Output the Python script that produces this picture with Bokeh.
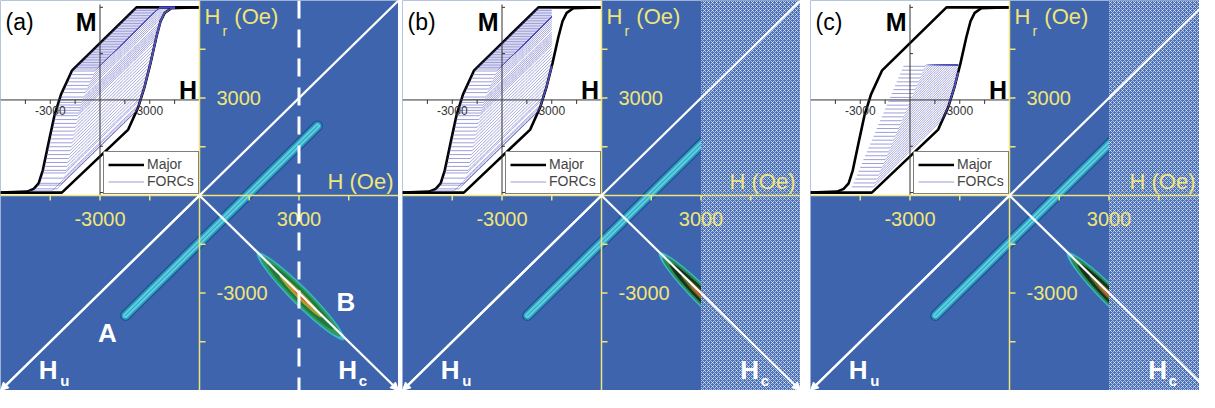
import numpy as np
from bokeh.plotting import figure
from bokeh.models import Range1d, Span, Slope, Arrow, NormalHead, Legend, LegendItem
from bokeh.layouts import row
from bokeh.embed import file_html
from bokeh.resources import INLINE
from bokeh.core.properties import value

# ---------------- values ----------------
PANEL_TAGS = ["(a)", "(b)", "(c)"]
AXIS_LIMIT = 6000                      # Oe, half width of the FORC diagram
MAIN_TICKS = [-4500, -3000, -1500, 1500, 3000, 4500]
MAIN_TICK_LABELS = [-3000, 3000]
FIELD_CUT_BC = 3000                    # largest applied field in (b) and (c)

INSET_TICKS_H = [-4500, -3000, -1500, 1500, 3000, 4500]
INSET_TICK_LABELS = [-3000, 3000]
INSET_TICKS_M = [-1.0, -0.5, 0.5, 1.0]

MAJOR_ASC_H = [-6000, -2300, 1700, 2300, 2700, 3050, 3400, 3650, 3900, 4300, 6000]
MAJOR_ASC_M = [-1.0, -1.0, -0.32, -0.08, 0.15, 0.40, 0.68, 0.85, 0.94, 0.99, 1.0]
MAJOR_DESC_H = [6000, 2200, -1680, -2350, -2750, -3050, -3450, -3700, -4000, -4400, -6000]
MAJOR_DESC_M = [1.0, 1.0, 0.32, 0.06, -0.17, -0.42, -0.76, -0.90, -0.96, -0.99, -1.0]

FORC_HR_AB = [-4300, -4000, -3800, -3700, -3600, -3500, -3450, -3400, -3350, -3300,
              -3250, -3200, -3150, -3100, -3050, -3000, -2950, -2900, -2850, -2800,
              -2750, -2700, -2650, -2600, -2550, -2500, -2450, -2400, -2300, -2200,
              -2100, -2000, -1900, -1800, -1700, -1600, -1500, -1400, -1300, -1200,
              -1100, -1000, -900, -800, -700, -600, -500, -400, -300, -200, -100, 0,
              100, 200, 300, 400, 500, 600, 700, 800, 900, 1000, 1100, 1200, 1300,
              1400, 1500, 1600, 1700, 1800, 1900, 2000, 2100]
FORC_SHIFT_AB = 1400
FORC_SLOPE = 1.75e-4
FORC_END_A = 4500

MINOR_DESC_H_C = [-6000, -3600, -360, 2900]
MINOR_DESC_M_C = [-1.0, -0.98, 0.38, 0.38]
FORC_HR_C = [-3500, -3400, -3300, -3200, -3100, -3000, -2900, -2800, -2700, -2600,
             -2500, -2400, -2300, -2200, -2100, -2000, -1900, -1800, -1700, -1600,
             -1500, -1400, -1300, -1200, -1100, -1000, -900, -800, -700, -600,
             -500, -400]
FORC_SHIFT_C = 1300
FORC_TOP_C = 0.38
FORC_END_C = 2900

RIDGE_A_H = [-2230, 3560]
RIDGE_A_HR = [-3690, 2140]
RIDGE_B_H = 3050
RIDGE_B_HR = -3100
RIDGE_B_LEN = [3750, 3400, 2800, 1800, 1100, 550]
RIDGE_B_WID = [580, 480, 360, 210, 130, 65]

# ---------------- styles ----------------
FONT = "Liberation Sans"
BLUE = "#3d64ad"
YELLOW = "#f0e47a"
FORC_COLOR = "#5050bc"
RIDGE_A_WIDTHS = [11, 8.5, 5, 1.2]
RIDGE_A_COLORS = ["#22508c", "#2b9cc0", "#5fd0e0", "#3aa8c8"]
RIDGE_B_COLORS = [
    ["#3fb5cf", "#2f9a5e", "#1f7a3c", "#a0a838", "#d98a2a", "#d04020"],
    ["#3fb5cf", "#2a8a50", "#17321d", "#5e6e28", "#c86a28", "#d03a20"],
    ["#3fb5cf", "#2a8a50", "#17321d", "#5e6e28", "#c86a28", "#d03a20"],
]

FRAME_W = [398, 398, 389]
GAP_L = [0, 4, 10]
FRAME_H = 390
PX = 2 * AXIS_LIMIT / FRAME_W[0]
XMAX = [AXIS_LIMIT, AXIS_LIMIT, -AXIS_LIMIT + FRAME_W[2] * PX]

# inset mapping: inset H = 2*x + 6000 ; inset M = (y - 2940)/2850
INSET_H_PER_X = 2.0
INSET_H_SHIFT = 6000.0
INSET_M0_Y = 2940.0
INSET_M_UNIT = 2850.0

desc_h_sorted = np.array(MAJOR_DESC_H[::-1], dtype=float)
desc_m_sorted = np.array(MAJOR_DESC_M[::-1], dtype=float)


def m_asc(h):
    return np.interp(h, MAJOR_ASC_H, MAJOR_ASC_M)


def forc_curve(hr, m0, shift, h_stop, top):
    hb = hr + shift
    if hb < h_stop:
        h = np.concatenate(([hr], np.arange(hb, h_stop, 25.0), [h_stop]))
    else:
        h = np.array([hr, h_stop], dtype=float)
    rise = m0 + FORC_SLOPE * np.clip(h - hb, 0, None)
    m = np.minimum(top, np.maximum(rise, m_asc(h)))
    return list(h), list(m)


def forcs(k):
    xs, ys = [], []
    if k < 2:
        stop = FORC_END_A if k == 0 else FIELD_CUT_BC
        for hr in FORC_HR_AB:
            m0 = float(np.interp(hr, desc_h_sorted, desc_m_sorted))
            h, m = forc_curve(hr, m0, FORC_SHIFT_AB, stop, 1.0)
            xs.append(h); ys.append(m)
    else:
        for hr in FORC_HR_C:
            m0 = float(np.interp(hr, MINOR_DESC_H_C, MINOR_DESC_M_C))
            h, m = forc_curve(hr, m0, FORC_SHIFT_C, FORC_END_C, FORC_TOP_C)
            xs.append(h); ys.append(m)
    return xs, ys


def txt(p, x, y, s, size, color, bold=False, align="left", xo=0, yo=0, **kw):
    xs = x if isinstance(x, list) else [x]
    ys = y if isinstance(y, list) else [y]
    ss = s if isinstance(s, list) else [s]
    p.text(x=xs, y=ys, text=ss, text_font=value(FONT), text_font_size=f"{size}px",
           text_font_style="bold" if bold else "normal", text_color=color,
           text_align=align, text_baseline="middle", x_offset=xo, y_offset=yo, **kw)


def build(k):
    xmax = XMAX[k]
    p = figure(width=FRAME_W[k] + GAP_L[k], height=FRAME_H,
               x_range=Range1d(-AXIS_LIMIT, xmax), y_range=Range1d(-AXIS_LIMIT, AXIS_LIMIT),
               x_axis_location=None, y_axis_location=None,
               output_backend="svg", toolbar_location=None,
               min_border=0, min_border_left=GAP_L[k], min_border_right=0,
               min_border_top=0, min_border_bottom=0,
               background_fill_color=BLUE, border_fill_color="white",
               outline_line_color=None)
    p.xgrid.visible = False
    p.ygrid.visible = False
    p.extra_x_ranges = {"ih": Range1d(INSET_H_PER_X * (-AXIS_LIMIT) + INSET_H_SHIFT,
                                      INSET_H_PER_X * xmax + INSET_H_SHIFT)}
    p.extra_y_ranges = {"im": Range1d((-AXIS_LIMIT - INSET_M0_Y) / INSET_M_UNIT,
                                      (AXIS_LIMIT - INSET_M0_Y) / INSET_M_UNIT)}
    I = dict(x_range_name="ih", y_range_name="im")

    # inset background (top-left quadrant)
    p.quad(left=[-AXIS_LIMIT], right=[0], bottom=[0], top=[AXIS_LIMIT],
           fill_color="white", line_color=None)

    # ridge A
    for w, c in zip(RIDGE_A_WIDTHS, RIDGE_A_COLORS):
        p.line(RIDGE_A_H, RIDGE_A_HR, line_width=w, line_color=c, line_cap="round")
    # ridge B
    n = len(RIDGE_B_LEN)
    p.ellipse(x=[RIDGE_B_H] * n, y=[RIDGE_B_HR] * n, width=RIDGE_B_LEN, height=RIDGE_B_WID,
              angle=-np.pi / 4, fill_color=RIDGE_B_COLORS[k], line_color=None)
    p.ellipse(x=[RIDGE_B_H], y=[RIDGE_B_HR], width=[RIDGE_B_LEN[0]], height=[RIDGE_B_WID[0]],
              angle=-np.pi / 4, fill_color=None, line_color="#2b6fa0", line_width=0.8)

    # region not reached in (b), (c)
    if k > 0:
        p.quad(left=[FIELD_CUT_BC], right=[xmax], bottom=[-AXIS_LIMIT], top=[AXIS_LIMIT],
               fill_color="#4a70b6", line_color=None, hatch_pattern="diagonal_cross",
               hatch_color="white", hatch_alpha=0.6, hatch_scale=4, hatch_weight=1)

    # yellow axis ticks and labels
    p.ray(x=[0] * len(MAIN_TICKS), y=MAIN_TICKS, length=6, angle=0, length_units="screen",
          line_color=YELLOW, line_width=1.5)
    p.ray(x=MAIN_TICKS, y=[0] * len(MAIN_TICKS), length=5, angle=-np.pi / 2,
          length_units="screen", line_color=YELLOW, line_width=1.5)
    txt(p, MAIN_TICK_LABELS, [0] * 2, [str(v) for v in MAIN_TICK_LABELS], 20, YELLOW,
        align="center", yo=23)
    txt(p, [0] * 2, MAIN_TICK_LABELS, [str(v) for v in MAIN_TICK_LABELS], 20, YELLOW,
        align="left", xo=17)
    txt(p, 150, 5500, "H", 22, YELLOW)
    txt(p, 690, 5060, "r", 14, YELLOW)
    txt(p, 1050, 5500, "(Oe)", 22, YELLOW)
    txt(p, min(5850, xmax - 120), 420, "H (Oe)", 22, YELLOW, align="right")

    # white labels
    if k == 0:
        txt(p, -2775, -4230, "A", 26, "white", bold=True, align="center")
        txt(p, 4410, -3285, "B", 26, "white", bold=True, align="center")
    txt(p, -4560, -5380, "H", 26, "white", bold=True, align="center")
    txt(p, -4200, -5700, "u", 15, "white", bold=True)
    txt(p, 4470, -5380, "H", 26, "white", bold=True, align="center")
    txt(p, 4800, -5700, "c", 15, "white", bold=True)

    # ---------------- inset hysteresis ----------------
    major_r = p.line(MAJOR_ASC_H, MAJOR_ASC_M, line_color="black", line_width=2.6, **I)
    p.line(MAJOR_DESC_H, MAJOR_DESC_M, line_color="black", line_width=2.6, **I)
    fx, fy = forcs(k)
    forc_r = p.multi_line(fx, fy, line_color=FORC_COLOR, line_alpha=0.7, line_width=0.8, **I)
    p.segment(x0=[0], y0=[-1.03], x1=[0], y1=[1.03], line_color="#333333", line_width=1, **I)
    p.segment(x0=[-AXIS_LIMIT], y0=[0], x1=[AXIS_LIMIT], y1=[0], line_color="#333333",
              line_width=1, **I)
    p.ray(x=INSET_TICKS_H, y=[0] * len(INSET_TICKS_H), length=4, angle=-np.pi / 2,
          length_units="screen", line_color="#333333", line_width=1, **I)
    p.ray(x=[0] * len(INSET_TICKS_M), y=INSET_TICKS_M, length=3, angle=0,
          length_units="screen", line_color="#333333", line_width=1, **I)
    txt(p, INSET_TICK_LABELS, [0] * 2, [str(v) for v in INSET_TICK_LABELS], 12, "#333333",
        align="center", yo=11, **I)
    txt(p, -5850, 5330, PANEL_TAGS[k], 23, "black")
    txt(p, -3420, 5330, "M", 25, "black", bold=True, align="center")
    txt(p, -345, 3255, "H", 25, "black", bold=True, align="center")

    legend = Legend(items=[LegendItem(label="Major", renderers=[major_r]),
                           LegendItem(label="FORCs", renderers=[forc_r])],
                    location=(103, 196), orientation="vertical",
                    label_text_font=FONT, label_text_font_size="14px",
                    glyph_width=36, glyph_height=15, label_height=15, label_standoff=3,
                    spacing=1, padding=4, margin=0, border_line_color="black",
                    border_line_width=1, background_fill_color="white",
                    background_fill_alpha=1.0)
    p.add_layout(legend)

    # annotations: yellow axes, white axes
    p.add_layout(Span(location=0, dimension="width", line_color=YELLOW, line_width=1.5))
    p.add_layout(Span(location=0, dimension="height", line_color=YELLOW, line_width=1.5))
    p.add_layout(Slope(gradient=1, y_intercept=0, line_color="white", line_width=2.2))
    for xe in (-AXIS_LIMIT, AXIS_LIMIT):
        p.add_layout(Arrow(end=NormalHead(size=8, fill_color="white", line_color="white"),
                           x_start=0, y_start=0, x_end=xe, y_end=-AXIS_LIMIT,
                           line_color="white", line_width=2.2))
    if k == 0:
        p.add_layout(Span(location=FIELD_CUT_BC, dimension="height", line_color="white",
                          line_width=3, line_dash="18 11"))
    return p


figs = [build(k) for k in range(3)]
layout = row(*figs)
open("out.html", "w").write(file_html(layout, INLINE, "FORC diagrams"))
